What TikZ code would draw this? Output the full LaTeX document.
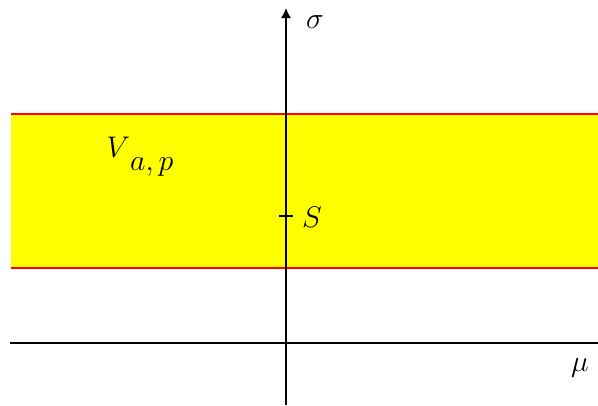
\documentclass[tikz,border=0pt]{standalone}
\usepackage{graphicx}
\usetikzlibrary{arrows.meta}
\definecolor{bandyellow}{RGB}{255,255,0}
\definecolor{bandred}{RGB}{255,0,0}
\tikzset{
  axis/.style={line width=1.5pt, draw=black},
  edge/.style={line width=1.5pt, draw=bandred},
  lbl/.style={inner sep=0pt, font=\Huge}
}
\newcommand{\bigsym}[1]{\scalebox{1.2}{#1}}
\begin{document}
\begin{tikzpicture}[x=1pt,y=-1pt]
\useasboundingbox (0,0) rectangle (598,405);
\fill[bandyellow] (11,114) rectangle (598,268);
\coordinate (tl) at (11,114);
\coordinate (tr) at (598,114);
\coordinate (bl) at (11,268);
\coordinate (br) at (598,268);
\draw[edge] (tl) -- (tr);
\draw[edge] (bl) -- (br);
\coordinate (xl) at (10,343);
\coordinate (xr) at (598,343);
\coordinate (yb) at (286,405);
\coordinate (yt) at (286,8);
\draw[axis] (xl) -- (xr);
\draw[axis, -{Latex[length=10pt,width=10pt]}] (yb) -- (yt);
\coordinate (tka) at (279,216);
\coordinate (tkb) at (293,216);
\draw[axis] (tka) -- (tkb);
\node[lbl] (sigma) at (315,22) {\bigsym{$\sigma$}};
\node[lbl] (S) at (312,217) {\bigsym{$S$}};
\node[lbl] (V) at (140,157) {\bigsym{$V$\raisebox{-11pt}{$a,p$}}};
\node[lbl] (mu) at (580,368) {\bigsym{$\mu$}};
\end{tikzpicture}
\end{document}
